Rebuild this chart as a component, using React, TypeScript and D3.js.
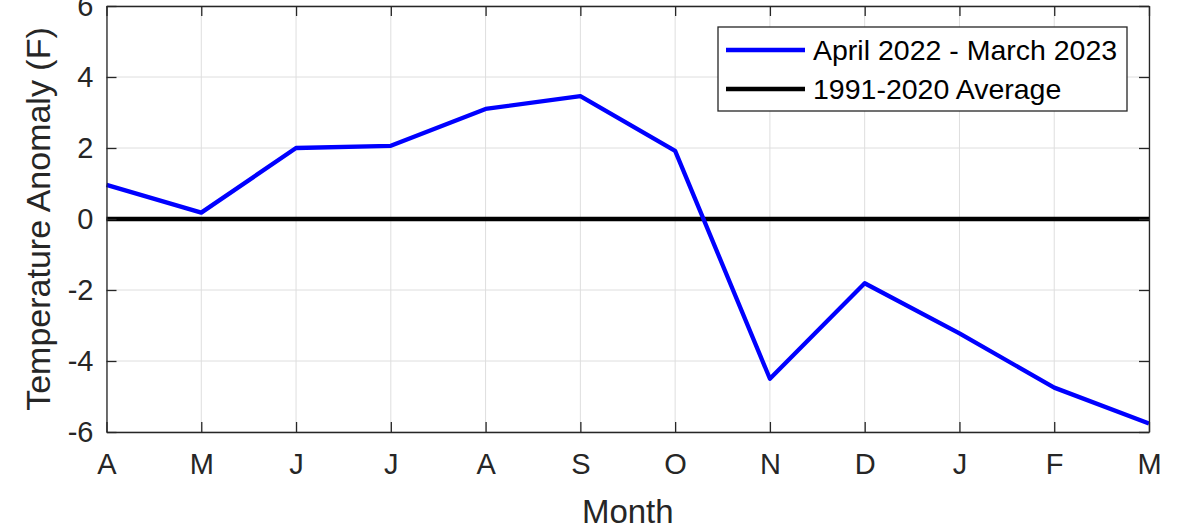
import React, { useRef, useEffect } from "react";
import * as d3 from "d3";

// month initials, April 2022 .. March 2023
const months = ["A", "M", "J", "J", "A", "S", "O", "N", "D", "J", "F", "M"];
const anomaly = [0.96, 0.18, 2.0, 2.06, 3.1, 3.46, 1.92, -4.5, -1.81, -3.22, -4.75, -5.76];
const average = [0, 0, 0, 0, 0, 0, 0, 0, 0, 0, 0, 0];
const yTicks = [-6, -4, -2, 0, 2, 4, 6];
const seriesNames = ["April 2022 - March 2023", "1991-2020 Average"];

const W = 1190;
const H = 528;
const margin = { top: 6, right: 41, bottom: 96, left: 106.5 };
const FONT = "'Liberation Sans', Arial, Helvetica, sans-serif";
const AX = "#262626";

const App = () => {
    const svgRef = useRef<SVGSVGElement>(null);

    useEffect(() => {
        const svg = d3.select(svgRef.current);
        svg.selectAll("*").remove();

        const x = d3.scaleLinear()
            .domain([0, months.length - 1])
            .range([margin.left, W - margin.right]);
        const y = d3.scaleLinear()
            .domain([-6, 6])
            .range([H - margin.bottom, margin.top]);

        const x0 = margin.left, x1 = W - margin.right;
        const y0 = H - margin.bottom, y1 = margin.top;

        svg.append("rect")
            .attr("width", W).attr("height", H).attr("fill", "#fff");

        // grid
        const grid = svg.append("g").attr("stroke", "#dedede").attr("stroke-width", 1);
        grid.selectAll(".gx").data(d3.range(months.length)).enter().append("line")
            .attr("x1", d => x(d)).attr("x2", d => x(d))
            .attr("y1", y1).attr("y2", y0);
        grid.selectAll(".gy").data(yTicks).enter().append("line")
            .attr("y1", d => y(d)).attr("y2", d => y(d))
            .attr("x1", x0).attr("x2", x1);

        // lines
        const line = d3.line<number>()
            .x((d, i) => x(i))
            .y(d => y(d));

        svg.append("path")
            .datum(average)
            .attr("fill", "none")
            .attr("stroke", "#000")
            .attr("stroke-width", 4.3)
            .attr("d", line);

        svg.append("path")
            .datum(anomaly)
            .attr("fill", "none")
            .attr("stroke", "#0000ff")
            .attr("stroke-width", 4.3)
            .attr("stroke-linejoin", "round")
            .attr("d", line);

        // axes (box with inward ticks)
        svg.append("g")
            .attr("transform", `translate(0,${y0})`)
            .call(d3.axisBottom(x).tickValues(d3.range(months.length)).tickSizeInner(-10).tickSizeOuter(0)
                .tickPadding(21).tickFormat((d: any) => months[d]))
            .call(g => g.selectAll("text").attr("font-size", 29).attr("dy", "0.71em"));

        svg.append("g")
            .attr("transform", `translate(0,${y1})`)
            .call(d3.axisTop(x).tickValues(d3.range(months.length)).tickSizeInner(-10).tickSizeOuter(0)
                .tickFormat(() => ""));

        svg.append("g")
            .attr("transform", `translate(${x0},0)`)
            .call(d3.axisLeft(y).tickValues(yTicks).tickSizeInner(-10).tickSizeOuter(0)
                .tickPadding(13).tickFormat((d: any) => String(d)))
            .call(g => g.selectAll("text").attr("font-size", 29));

        svg.append("g")
            .attr("transform", `translate(${x1},0)`)
            .call(d3.axisRight(y).tickValues(yTicks).tickSizeInner(-10).tickSizeOuter(0)
                .tickFormat(() => ""));

        svg.selectAll(".domain").attr("stroke", AX).attr("stroke-width", 1.3);
        svg.selectAll(".tick line").attr("stroke", AX).attr("stroke-width", 1.3);
        svg.selectAll(".tick text").attr("fill", AX).attr("font-family", FONT);

        // axis labels
        svg.append("text")
            .attr("x", (x0 + x1) / 2)
            .attr("y", 523)
            .attr("text-anchor", "middle")
            .attr("font-family", FONT)
            .attr("font-size", 33)
            .attr("fill", AX)
            .text("Month");

        svg.append("text")
            .attr("transform", `translate(50,${(y0 + y1) / 2}) rotate(-90)`)
            .attr("text-anchor", "middle")
            .attr("font-family", FONT)
            .attr("font-size", 34)
            .attr("fill", AX)
            .text("Temperature Anomaly (F)");

        // legend
        const lg = svg.append("g");
        lg.append("rect")
            .attr("x", 718).attr("y", 27)
            .attr("width", 409).attr("height", 84)
            .attr("fill", "#fff")
            .attr("stroke", AX)
            .attr("stroke-width", 1.3);
        const colors = ["#0000ff", "#000"];
        seriesNames.forEach((name, i) => {
            const ly = 50 + i * 39;
            lg.append("line")
                .attr("x1", 726).attr("x2", 805)
                .attr("y1", ly).attr("y2", ly)
                .attr("stroke", colors[i])
                .attr("stroke-width", 4.3);
            lg.append("text")
                .attr("x", 813).attr("y", ly)
                .attr("dy", "0.35em")
                .attr("font-family", FONT)
                .attr("font-size", 28.5)
                .attr("fill", "#000")
                .text(name);
        });
    }, []);

    return (
        <div>
            <svg ref={svgRef} width={W} height={H}
                style={{ position: "absolute", left: 0, top: 0, display: "block" }}></svg>
        </div>
    );
};

export default App;
